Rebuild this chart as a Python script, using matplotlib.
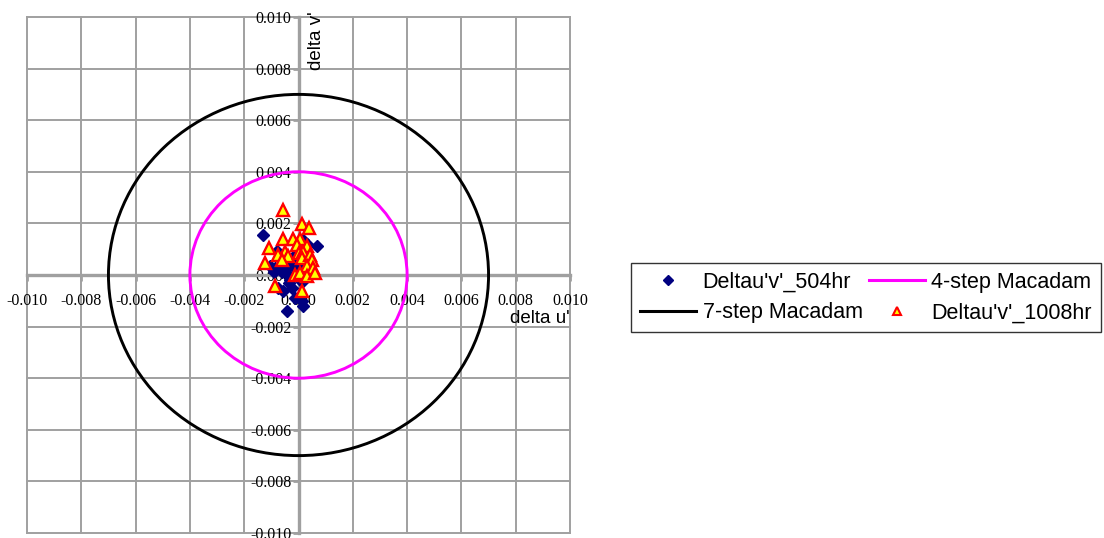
import numpy as np
import matplotlib.pyplot as plt
from matplotlib.patches import Circle
from matplotlib.lines import Line2D

plt.rcParams['font.family'] = ['Liberation Sans', 'DejaVu Sans']

# delta u'v' after 504 hr
du_504 = [-0.0013, 0.00067, -0.0008, 0.0003, 0.00018, -0.00105, -0.00087, -0.00068,
          -0.0005, -0.00038, -0.0003, -0.00025, -0.00007, -0.00013, 0.00005, 0.00018,
          -0.00074, -0.00056, -0.00013, 0.00012, 0.00018, -0.00043, -0.00025, -0.0009,
          -0.0006, -0.0002, 0.0001, -0.00045, 0.0002, -0.00035]
dv_504 = [0.00155, 0.00113, 0.00093, 0.0012, 0.00136, 0.00033, 0.00027, 0.00035,
          0.0002, 0.00001, -0.00018, 0.0004, 0.0002, 0.00053, -0.00018, -0.00024,
          -0.0005, -0.00063, -0.00088, -0.001, -0.0012, -0.0014, -0.0005, 0.0001,
          0.0001, 0.0007, 0.0009, 0.0005, 0.0003, -0.0003]

# delta u'v' after 1008 hr
du_1008 = [-0.00056, 0.00012, 0.0004, -0.00056, -0.00021, 0.00006, -0.00007, 0.0003,
           -0.0011, -0.0005, -0.00074, -0.00038, 0.0, 0.00018, 0.00012, 0.00042,
           0.00049, -0.00123, 0.0003, 0.00055, -0.00013, 0.00006, 0.0003, 0.00061,
           -0.00087, 0.00012, -0.00062]
dv_1008 = [0.00251, 0.00196, 0.00181, 0.0014, 0.0014, 0.0014, 0.00117, 0.00113,
           0.00104, 0.00091, 0.00078, 0.00072, 0.00085, 0.00091, 0.00065, 0.00078,
           0.00059, 0.00046, 0.00033, 0.00027, 0.00001, 0.00008, -0.00005, 0.00008,
           -0.00043, -0.00063, 0.00059]

macadam_labels = ["4-step Macadam", "7-step Macadam"]
macadam_radii = [0.004, 0.007]
macadam_colors = ["#FF00FF", "black"]

ticks = np.arange(-0.010, 0.0101, 0.002)
tick_labels = ["%.3f" % t if abs(t) > 1e-9 else "0.000" for t in ticks]

fig = plt.figure(figsize=(11.04, 5.38), dpi=100)
ax = fig.add_axes([27 / 1104, 5 / 538, 543 / 1104, 516 / 538])

# axes crossing at the origin (set before tick labels, it resets the ticks)
for side in ["top", "right"]:
    ax.spines[side].set_visible(False)
for side in ["left", "bottom"]:
    ax.spines[side].set_position("zero")
    ax.spines[side].set_color("#A0A0A0")
    ax.spines[side].set_linewidth(2.4)
    ax.spines[side].set_zorder(2)

for r, c in zip(macadam_radii, macadam_colors):
    ax.add_patch(Circle((0, 0), r, fill=False, edgecolor=c, linewidth=2.1, zorder=3))

ax.plot(du_504, dv_504, linestyle="none", marker="D", markersize=6,
        color="#000080", zorder=4)
ax.plot(du_1008, dv_1008, linestyle="none", marker="^", markersize=8,
        markerfacecolor="#FFFF00", markeredgecolor="#FF0000", markeredgewidth=1.7, zorder=5)

ax.set_xlim(-0.010, 0.010)
ax.set_ylim(-0.010, 0.010)
ax.set_xticks(ticks)
ax.set_yticks(ticks)
ax.set_xticklabels(tick_labels)
ax.set_yticklabels(tick_labels)
ax.tick_params(axis="both", color="#A0A0A0", width=2, length=4, direction="out")
ax.tick_params(axis="x", pad=9)
ax.tick_params(axis="y", pad=1)
for lbl in ax.get_xticklabels() + ax.get_yticklabels():
    lbl.set_fontfamily("Liberation Serif")
    lbl.set_fontsize(11.5)

for t in ticks:
    ax.axvline(t, color="#A0A0A0", linewidth=1.4, zorder=1, clip_on=False)
    ax.axhline(t, color="#A0A0A0", linewidth=1.4, zorder=1, clip_on=False)
ax.patch.set_visible(False)

ax.text(0.00035, 0.0102, "delta v'", rotation=90, ha="left", va="top", fontsize=13.5)
ax.text(0.0078, -0.0017, "delta u'", ha="left", va="center", fontsize=13.5)

handles = [
    Line2D([], [], linestyle="none", marker="D", markersize=5, color="#000080"),
    Line2D([], [], color=macadam_colors[1], linewidth=2.2),
    Line2D([], [], color=macadam_colors[0], linewidth=2.2),
    Line2D([], [], linestyle="none", marker="^", markersize=6,
           markerfacecolor="#FFFF00", markeredgecolor="#FF0000", markeredgewidth=1.5),
]
labels = ["Deltau'v'_504hr", macadam_labels[1], macadam_labels[0], "Deltau'v'_1008hr"]
leg = fig.legend(handles, labels, ncol=2, loc="center",
                 bbox_to_anchor=(866 / 1104, 1 - 297.5 / 538),
                 prop={"size": 15.5},
                 frameon=True, fancybox=False, shadow=False,
                 handlelength=2.6, handletextpad=0.3, columnspacing=0.3,
                 borderpad=0.4, labelspacing=0.45, borderaxespad=0)
leg.get_frame().set_edgecolor("black")
leg.get_frame().set_linewidth(1)

fig.savefig("out.png", dpi=100)
